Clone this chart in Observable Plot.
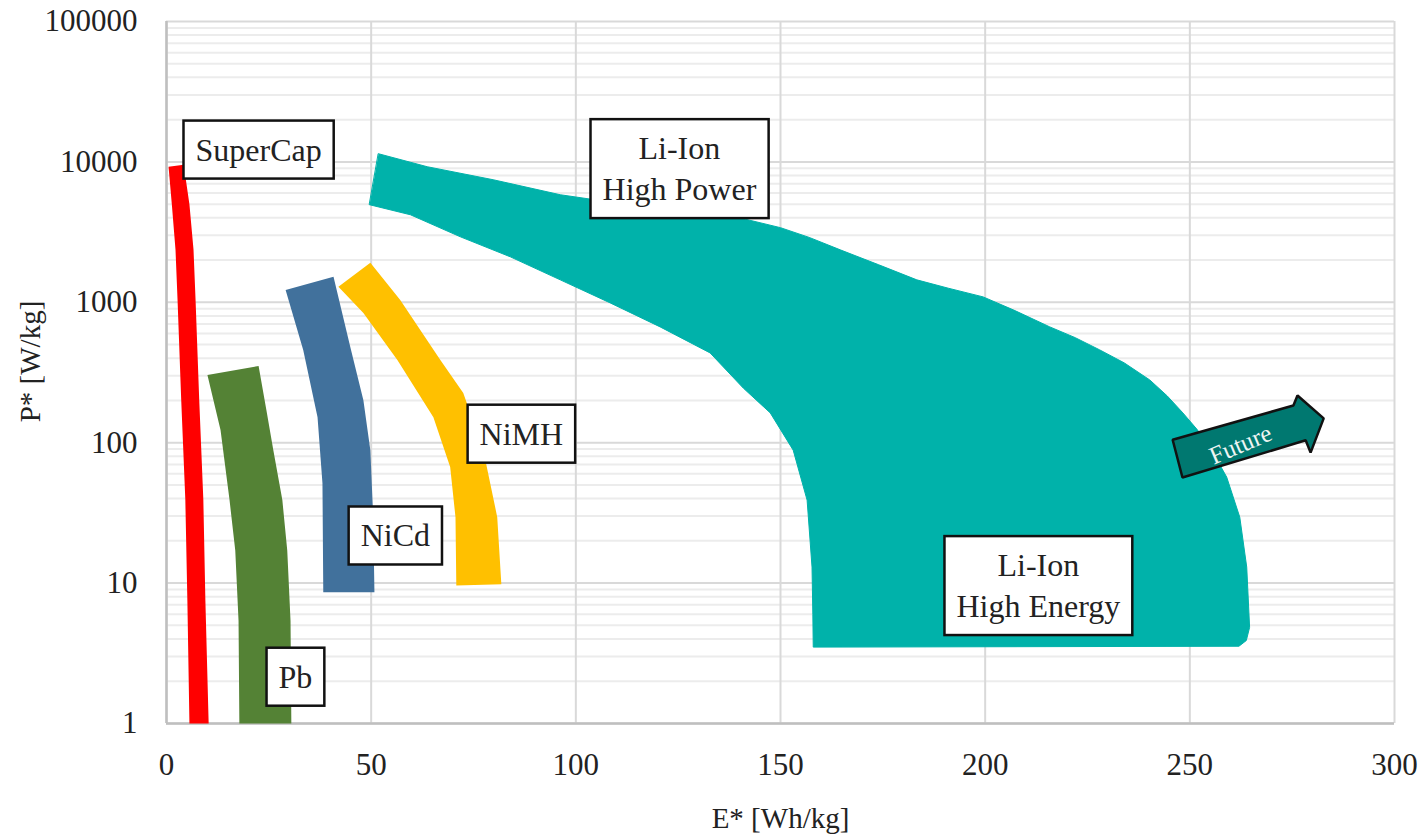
<!DOCTYPE html>
<html><head><meta charset="utf-8">
<script src="https://cdn.jsdelivr.net/npm/d3@7"></script>
<script src="https://cdn.jsdelivr.net/npm/@observablehq/plot@0.6"></script>
<style>html,body{margin:0;padding:0;background:#fff;} svg{display:block}</style>
</head><body><div id="chart"></div>
<script>
// Axis ticks
const xTicks = [0, 50, 100, 150, 200, 250, 300];
const yTicks = [1, 10, 100, 1000, 10000, 100000];
const yMinor = [1, 10, 100, 1000, 10000].flatMap(d => [2,3,4,5,6,7,8,9].map(k => k * d));

// Technology regions: outlines as [E* (Wh/kg), P* (W/kg)]
const superCap = [[0.5,9240],[1.3,5000],[2.2,2364],[2.7,1040],[3.6,200],[4.6,39],[5.1,7.5],[5.6,1],
  [10.3,1],[9.5,7.5],[9.0,39],[8.0,200],[7.1,1040],[6.6,2364],[5.6,5000],[4.2,9550]];
const lead = [[10.0,303],[13.2,123],[15.4,39],[16.8,17.1],[17.6,5.4],[17.8,1],
  [30.5,1],[30.3,5.4],[29.5,17.1],[28.3,39],[26.1,88.5],[24.4,171],[22.5,352]];
const niCd = [[29.1,1225],[33.4,458],[36.9,152],[38.1,51.5],[38.3,8.6],
  [50.8,8.6],[50.5,29.5],[49.8,88.5],[48.1,201],[44.9,481],[40.8,1518]];
const niMH = [[42.0,1288],[48.1,840],[56.4,388],[65.2,152],[69.3,67],[70.6,29.5],[70.8,9.6],
  [81.8,9.8],[80.8,29.5],[77.4,88.5],[72.5,226],[66.9,388],[57.1,1040],[49.8,1910]];
const liIon = [[51.8,11430],[63.7,9240],[79.8,7465],[96.2,5835],[110,5100],[125,4500],[140,4000],[150,3400],
  [157,2900],[164.6,2364],[174,1850],[183.3,1445],[191,1260],[199.5,1093],[207,880],[215.8,668],[222,560],
  [228.0,458],[234,370],[240.2,280],[244.5,215],[248.3,163],[251.8,124],[254.9,93],[259.0,56.9],[262.2,29.5],
  [263.9,13.0],[264.6,4.84],[263.8,3.9],[262,3.55],[158.0,3.5],[157.9,6],[157.7,13.0],[156.5,39.0],
  [153.1,88.5],[147.5,163],[140.9,245],[132.8,436],[120.6,668],[108.4,990],[96.2,1445],[84.0,2108],
  [71.8,2927],[59.6,4200],[49.6,4955]];
const futureArrow = [[248.2,56.5],[245.8,105],[275.3,184],[276.3,217],[282.7,149],[279.5,85],[278.3,104]];

// Labels
const labelText = ["SuperCap", "Li-Ion\nHigh Power", "NiMH", "NiCd", "Pb", "Li-Ion\nHigh Energy"];
const labelE = [22.5, 125.3, 86.7, 55.9, 31.5, 213.0];
const labelP = [12670, 9270, 120, 22.6, 2.23, 9.94];
const futureText = ["Future"];
const futureE = [262.4];
const futureP = [97];

const xy = {x: d => d[0], y: d => d[1]};
const labels = labelText.map((t, i) => ({t, e: labelE[i], p: labelP[i]}));
const fut = futureText.map((t, i) => ({t, e: futureE[i], p: futureP[i]}));

const plot = Plot.plot({
  width: 1423, height: 837,
  marginLeft: 166, marginRight: 29, marginTop: 21, marginBottom: 114,
  style: {fontFamily: "'Liberation Serif', 'Times New Roman', serif", background: "white", color: "#222"},
  x: {domain: [0, 300], label: null},
  y: {type: "log", domain: [1, 100000], label: null},
  marks: [
    Plot.ruleY(yMinor, {stroke: "#ececec", strokeWidth: 2}),
    Plot.ruleY(yTicks, {stroke: "#d9d9d9", strokeWidth: 2}),
    Plot.ruleX(xTicks, {stroke: "#d9d9d9", strokeWidth: 2}),
    Plot.ruleX([0], {stroke: "#bfbfbf", strokeWidth: 2.5}),
    Plot.ruleY([1], {stroke: "#bfbfbf", strokeWidth: 2.5}),
    Plot.axisX(xTicks, {tickSize: 0, tickPadding: 29, fontSize: 31, label: null}),
    Plot.axisY(yTicks, {tickSize: 0, tickPadding: 29, fontSize: 31, tickFormat: d3.format("d"), label: null}),
    Plot.text(["E* [Wh/kg]"], {frameAnchor: "bottom", dy: 104, fontSize: 29}),
    Plot.text(["P* [W/kg]"], {frameAnchor: "left", textAnchor: "middle", dx: -136, dy: -11, rotate: -90, fontSize: 29}),
    Plot.line(liIon, {...xy, fill: "#00B2AA", stroke: "#00B2AA", strokeWidth: 1, curve: "linear-closed"}),
    Plot.line(superCap, {...xy, fill: "#FF0000", stroke: "none", curve: "linear-closed"}),
    Plot.line(lead, {...xy, fill: "#548235", stroke: "none", curve: "linear-closed"}),
    Plot.line(niCd, {...xy, fill: "#41719C", stroke: "none", curve: "linear-closed"}),
    Plot.line(niMH, {...xy, fill: "#FFC000", stroke: "none", curve: "linear-closed"}),
    Plot.line(futureArrow, {...xy, fill: "#007870", stroke: "#111", strokeWidth: 2.5, curve: "linear-closed", strokeLinejoin: "miter"}),
    Plot.text(fut, {x: "e", y: "p", text: "t", rotate: -23, fontSize: 25, fill: "#eef5f3"}),
    Plot.text(labels, {x: "e", y: "p", text: "t", fontSize: 32, lineHeight: 1.28, fill: "#222"})
  ]
});
document.getElementById("chart").append(plot);
const wanted = new Set(labelText.map(s => s.replace(/\n/g, "")));
plot.querySelectorAll("text").forEach(t => {
  if (!wanted.has(t.textContent.replace(/\n/g, ""))) return;
  const b = t.getBBox();
  const r = document.createElementNS("http://www.w3.org/2000/svg", "rect");
  r.setAttribute("x", b.x - 12);
  r.setAttribute("y", b.y - 11);
  r.setAttribute("width", b.width + 24);
  r.setAttribute("height", b.height + 22);
  r.setAttribute("fill", "white");
  r.setAttribute("stroke", "#111");
  r.setAttribute("stroke-width", 2.5);
  const tr = t.getAttribute("transform");
  if (tr) r.setAttribute("transform", tr);
  t.parentNode.insertBefore(r, t);
});
</script>
</body></html>
